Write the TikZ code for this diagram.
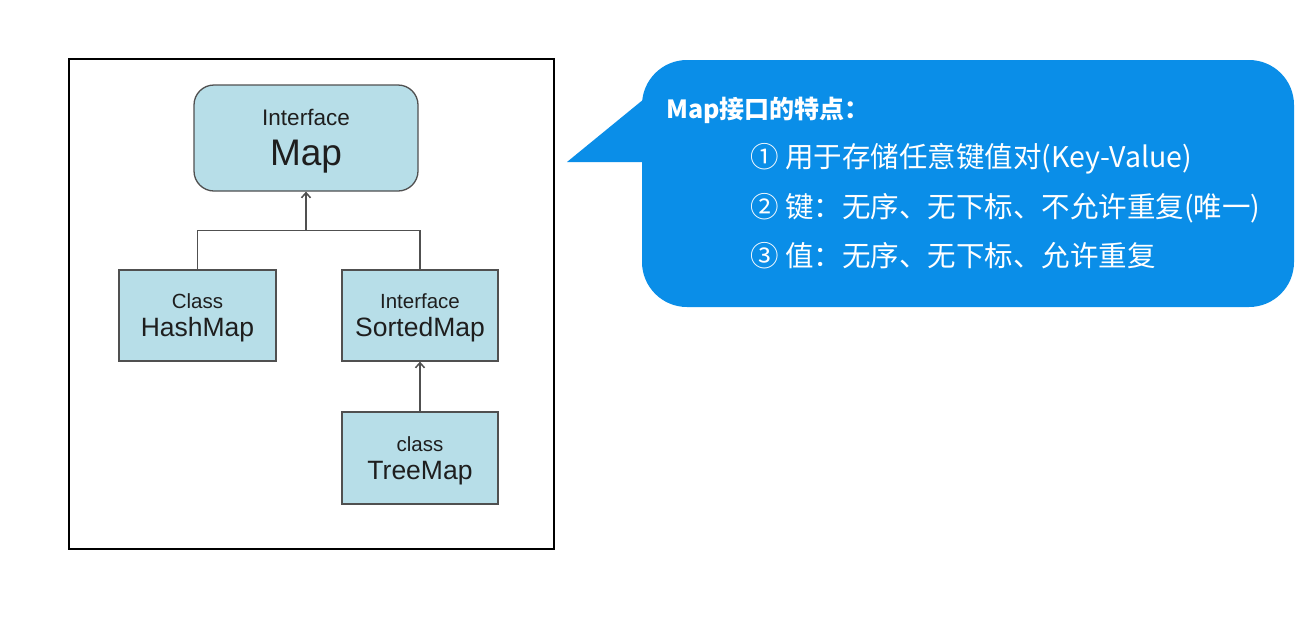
\documentclass[tikz,border=0pt]{standalone}
\usepackage{fontspec}
\setmainfont{Liberation Sans}
\newfontfamily\cjk{Noto Sans CJK SC}
\definecolor{mapfill}{RGB}{183,222,232}
\definecolor{mapline}{RGB}{80,80,80}
\definecolor{mapblue}{RGB}{10,142,232}
\definecolor{maptext}{RGB}{30,30,30}
\usetikzlibrary{arrows.meta,positioning,calc}

\begin{document}
\begin{tikzpicture}[x=1pt,y=-1pt,
  typebox/.style={draw=mapline, line width=1.3pt, fill=mapfill, text=maptext, align=center, inner sep=0pt},
  inherit/.style={mapline, line width=1.5pt},
  itemtext/.style={anchor=base west, text=white, inner sep=0pt, font=\cjk\fontsize{28.5}{31}\selectfont}]
\useasboundingbox[fill=white] (0,0) rectangle (1316,627);
% frame around the hierarchy
\draw[black, line width=1.2pt] (69,59) rectangle (554,549);
\node[typebox, rounded corners=20pt, minimum width=224pt, minimum height=106pt,
  font=\fontsize{37}{40}\selectfont] (map) at (306,138)
  {{\fontsize{22.5}{24}\selectfont\rule{0pt}{22pt}Interface}\\Map};
\node[typebox, minimum width=157pt, minimum height=91pt, font=\fontsize{26.5}{28}\selectfont]
  (hash) at (197.5,315.5) {{\fontsize{20.5}{22}\selectfont\rule{0pt}{20pt}Class}\\HashMap};
\node[typebox, minimum width=156pt, minimum height=91pt, font=\fontsize{26.5}{28}\selectfont]
  (sorted) at (420,315.5) {{\fontsize{20.5}{22}\selectfont\rule{0pt}{20pt}Interface}\\SortedMap};
\node[typebox, minimum width=156pt, minimum height=92pt, font=\fontsize{26.5}{28}\selectfont]
  (tree) at (420,458) {{\fontsize{20.5}{22}\selectfont\rule{0pt}{20pt}class}\\TreeMap};
% inheritance lines
\coordinate (bus) at ($(map.south)+(0,39)$);
\draw[inherit] (hash.north) |- (bus) -| (sorted.north);
\draw[inherit, -{Straight Barb[length=5pt,width=9pt]}] (bus) -- (map.south);
\draw[inherit, -{Straight Barb[length=5pt,width=9pt]}] (tree.north) -- (sorted.south);
% speech bubble
\node[fill=mapblue, rounded corners=45pt, minimum width=652pt, minimum height=247pt, inner sep=0pt]
  (note) at (968,183.5) {};
\coordinate (tip) at (567,162);
\fill[mapblue] (tip) -- (644,99) -- (660,99) -- (660,162) -- cycle;
\node[anchor=base west, text=white, inner sep=0pt, font=\cjk\bfseries\fontsize{25}{28}\selectfont]
  (title) at (666,118) {Map接口的特点：};
\node[itemtext] (item1) at (750,167) {① 用于存储任意键值对(Key-Value)};
\node[itemtext] (item2) at (750,217) {② 键：无序、无下标、不允许重复(唯一)};
\node[itemtext] (item3) at (750,266) {③ 值：无序、无下标、允许重复};
\end{tikzpicture}
\end{document}
